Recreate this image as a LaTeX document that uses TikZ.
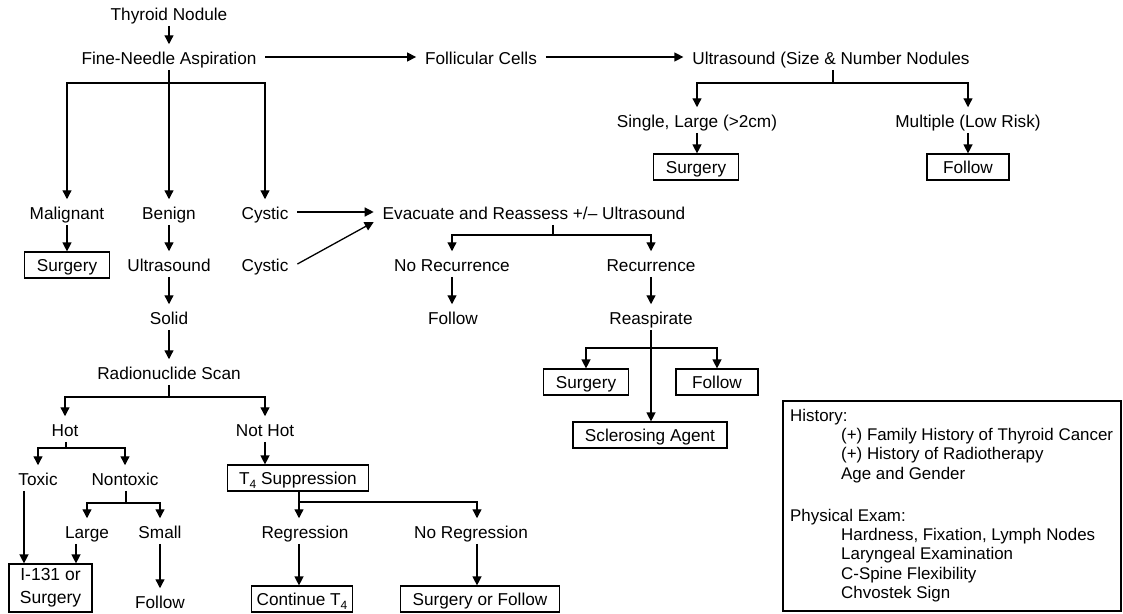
\documentclass[tikz,border=0pt]{standalone}
\usepackage{fontspec}
\setmainfont{Liberation Sans}
\usetikzlibrary{arrows.meta,calc}
\newcommand{\Tfour}{T\raisebox{-0.5ex}{\fontsize{12}{12}\selectfont 4}}
\begin{document}
\begin{tikzpicture}[x=1pt,y=-1pt,font=\fontsize{17.2}{20}\selectfont,
  txt/.style={inner xsep=3pt,inner ysep=1pt,outer xsep=6pt,outer ysep=3pt,text height=16pt,text depth=1.5pt},
  box/.style={draw,line width=1.2pt,inner xsep=12pt,inner ysep=5pt,outer sep=0.6pt,minimum width=82pt,text height=14pt,text depth=2pt},
  arr/.style={line width=1.3pt,-{Triangle[length=9pt,width=9pt]}},
  ln/.style={line width=1.3pt}]
\useasboundingbox (0,0) rectangle (1123,613);

% top row
\node[txt] (thy) at (169,13) {Thyroid Nodule};
\node[txt] (fna) at (169,57) {Fine-Needle Aspiration};
\node[txt] (fol) at (481,57) {Follicular Cells};
\node[txt] (us) at (831,57) {Ultrasound (Size \& Number Nodules};
\node[txt] (sl) at (697,120) {Single, Large (>2cm)};
\node[txt] (mu) at (968,120) {Multiple (Low Risk)};
\node[box] (surg1) at (696,167) {Surgery};
\node[box] (fol1) at (968,167) {Follow};

% second block
\node[txt] (mal) at (67,212) {Malignant};
\node[txt] (ben) at (169,212) {Benign};
\node[txt] (cys1) at (265,212) {Cystic};
\node[txt] (eva) at (534,212) {Evacuate and Reassess +/– Ultrasound};
\node[box] (surg2) at (67,265) {Surgery};
\node[txt] (us2) at (169,264) {Ultrasound};
\node[txt] (cys2) at (265,264) {Cystic};
\node[txt] (norec) at (452,264) {No Recurrence};
\node[txt] (rec) at (651,264) {Recurrence};
\node[txt] (solid) at (169,317) {Solid};
\node[txt] (fol2) at (453,317) {Follow};
\node[txt] (reasp) at (651,317) {Reaspirate};
\node[txt] (rad) at (169,372) {Radionuclide Scan};
\node[box] (surg3) at (586,382) {Surgery};
\node[box] (fol3) at (717,382) {Follow};
\node[box] (scl) at (650,435) {Sclerosing Agent};

% lower left
\node[txt] (hot) at (65,429) {Hot};
\node[txt] (nothot) at (265,429) {Not Hot};
\node[txt] (tox) at (38,478) {Toxic};
\node[txt] (nontox) at (125,478) {Nontoxic};
\node[box] (t4) at (298,478) {\Tfour\ Suppression};
\node[txt] (large) at (87,531) {Large};
\node[txt] (small) at (160,531) {Small};
\node[txt] (reg) at (305,531) {Regression};
\node[txt] (noreg) at (471,531) {No Regression};
\node[draw,line width=1.2pt,minimum width=83pt,minimum height=48pt,inner sep=2pt,align=center,outer sep=0.6pt,font=\fontsize{17.5}{23}\selectfont] (i131) at (50.5,588) {I-131 or\\Surgery};
\node[txt] (follow4) at (160,601) {Follow};
\node[box,inner xsep=5pt] (cont) at (302,599) {Continue \Tfour};
\node[box] (sof) at (480,599) {Surgery or Follow};

% legend
\node[draw,line width=1.2pt,minimum width=338pt,minimum height=210pt,inner sep=0pt] (leg) at (952,506) {};
\begin{scope}[every node/.style={anchor=base west,inner sep=0pt,font=\fontsize{16.9}{20}\selectfont}]
\node (h1) at (790,421) {History:};
\node (h2) at (841,440) {(+) Family History of Thyroid Cancer};
\node (h3) at (841,459) {(+) History of Radiotherapy};
\node (h4) at (841,479) {Age and Gender};
\node (p1) at (790,521) {Physical Exam:};
\node (p2) at (841,540) {Hardness, Fixation, Lymph Nodes};
\node (p3) at (841,559) {Laryngeal Examination};
\node (p4) at (841,579) {C-Spine Flexibility};
\node (p5) at (841,598) {Chvostek Sign};
\end{scope}

% bar coordinates
\coordinate (bFNA) at (169,83);
\coordinate (bUS) at (833,83);
\coordinate (bEV) at (553,235);
\coordinate (bRE) at (651,348);
\coordinate (bRAD) at (169,397);
\coordinate (bHOT) at (66,448);
\coordinate (bNT) at (126,503);
\coordinate (bT4) at (299,502);
\coordinate (tA) at (24,0);
\coordinate (lA) at (76,0);
\coordinate (nA) at (477,0);

% connectors top
\draw[arr] (thy.south) -- (thy.south |- fna.north);
\draw[arr] (fna.east) -- (fol.west);
\draw[arr] (fol.east) -- (us.west);
\draw[ln] (us.south -| bUS) -- (bUS);
\draw[arr] (bUS) -| (sl.north);
\draw[arr] (bUS) -| (mu.north);
\draw[arr] (sl.south) -- (sl.south |- surg1.north);
\draw[arr] (mu.south) -- (mu.south |- fol1.north);

% FNA branches
\draw[ln] (fna.south) -- (bFNA);
\draw[arr] (bFNA) -| (mal.north);
\draw[arr] (bFNA) -- (bFNA |- ben.north);
\draw[arr] (bFNA) -| (cys1.north);
\draw[arr] (mal.south) -- (mal.south |- surg2.north);
\draw[arr] (ben.south) -- (ben.south |- us2.north);
\draw[arr] (us2.south) -- (us2.south |- solid.north);
\draw[arr] (solid.south) -- (solid.south |- rad.north);

% cystic
\draw[arr] (cys1.east) -- (eva.west);
\draw[arr] (cys2.east) -- ($(eva.west)+(0,10)$);
\draw[ln] (eva.south -| bEV) -- (bEV);
\draw[arr] (bEV) -| (norec.north);
\draw[arr] (bEV) -| (rec.north);
\draw[arr] (norec.south) -- (norec.south |- fol2.north);
\draw[arr] (rec.south) -- (rec.south |- reasp.north);
\draw[arr] (reasp.south) -- (reasp.south |- scl.north);
\draw[arr] (bRE) -| (surg3.north);
\draw[arr] (bRE) -| (fol3.north);

% radionuclide
\draw[ln] (rad.south) -- (bRAD);
\draw[arr] (bRAD) -| (hot.north);
\draw[arr] (bRAD) -| (nothot.north);
\draw[ln] (hot.south -| bHOT) -- (bHOT);
\draw[arr] (bHOT) -| (tox.north);
\draw[arr] (bHOT) -| (nontox.north);
\draw[ln] (nontox.south -| bNT) -- (bNT);
\draw[arr] (bNT) -| (large.north);
\draw[arr] (bNT) -| (small.north);
\draw[arr] (tox.south -| tA) -- (i131.north -| tA);
\draw[arr] (large.south -| lA) -- (i131.north -| lA);
\draw[arr] (small.south) -- (small.south |- follow4.north);
\draw[arr] (nothot.south) -- (nothot.south |- t4.north);
\draw[ln] (t4.south -| bT4) -- (bT4);
\draw[arr] (bT4) -- (bT4 |- reg.north);
\draw[arr] (bT4) -| (nA |- noreg.north);
\draw[arr] (reg.south -| bT4) -- (cont.north -| bT4);
\draw[arr] (noreg.south -| nA) -- (sof.north -| nA);
\end{tikzpicture}
\end{document}
